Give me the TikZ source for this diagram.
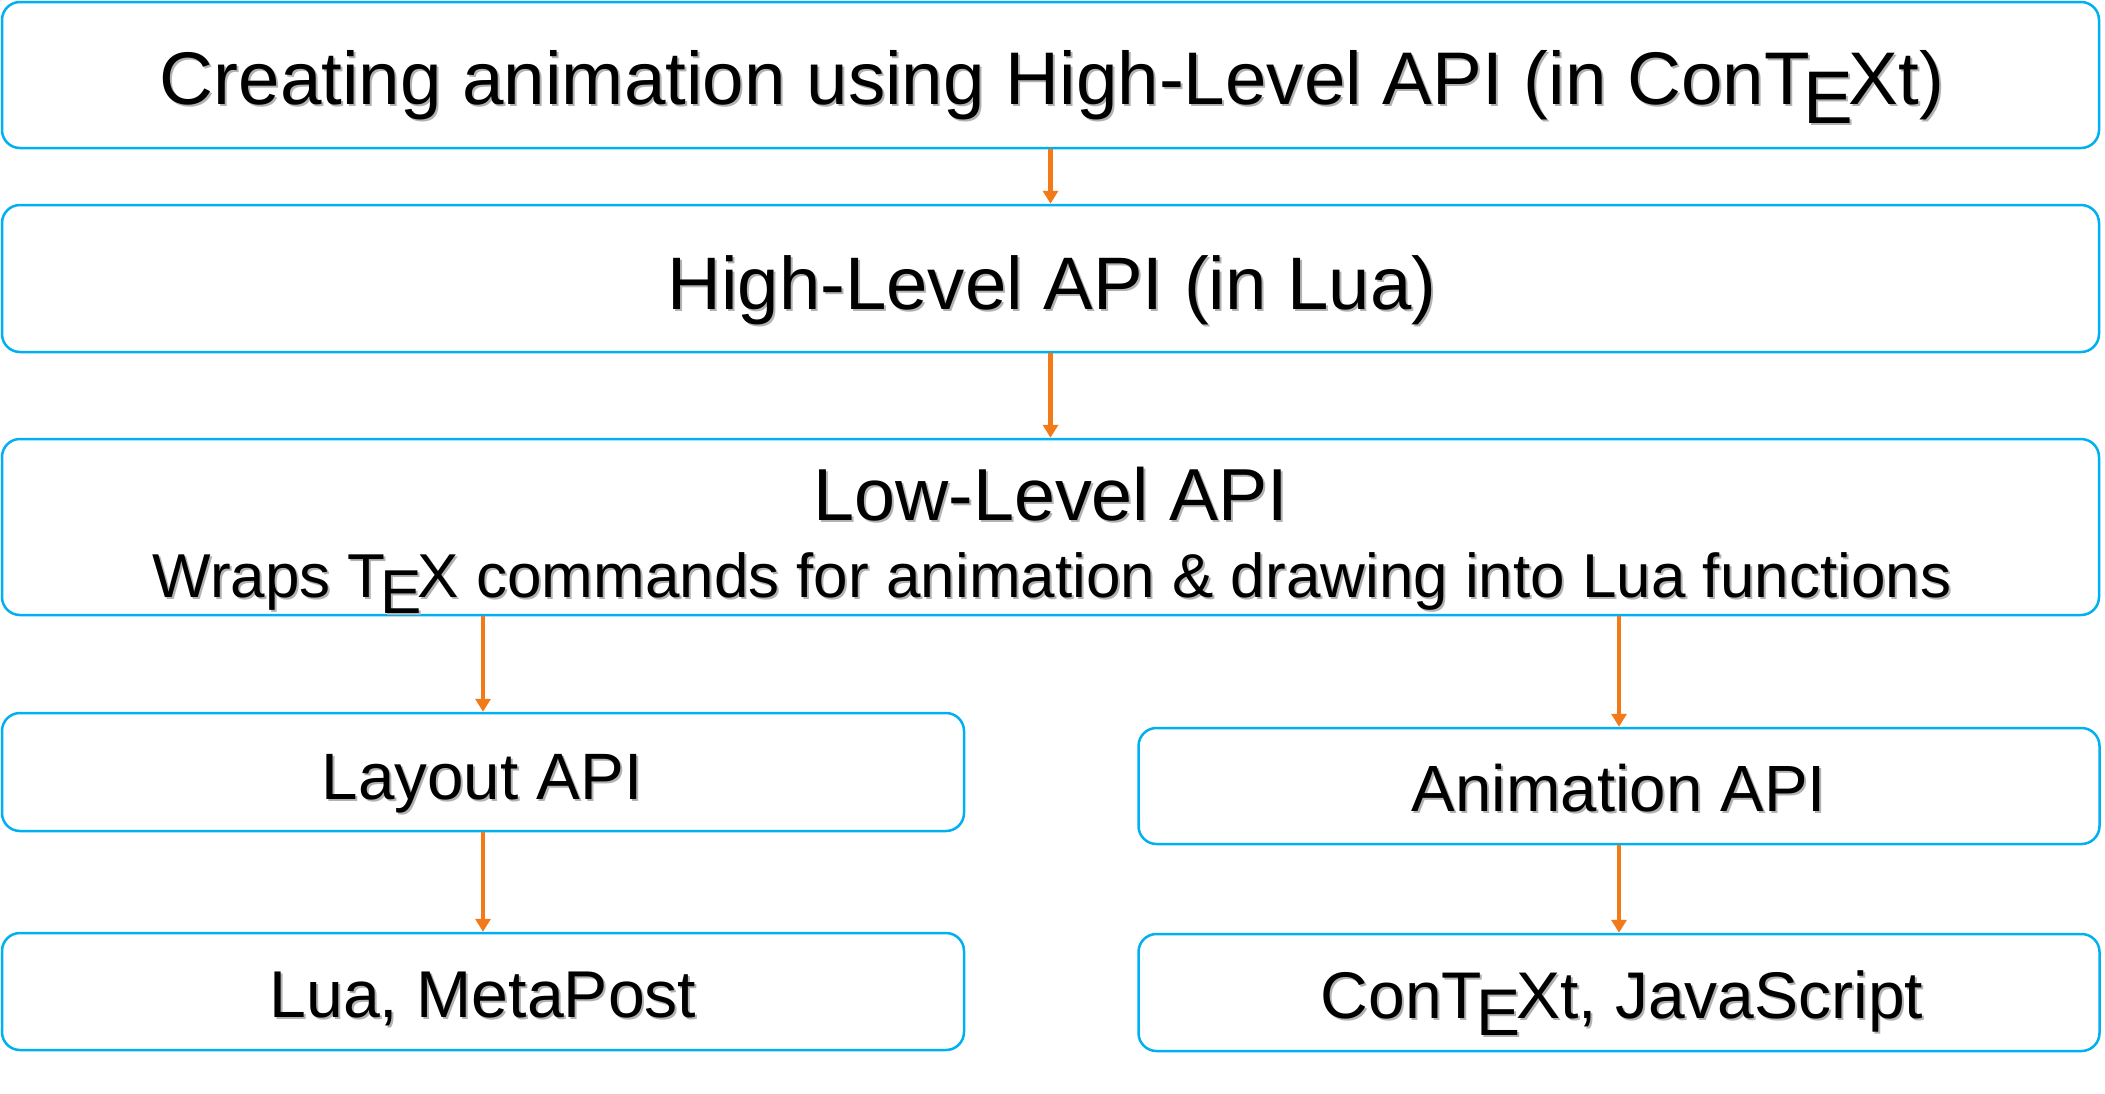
\documentclass[tikz,border=0pt]{standalone}
\usepackage{fontspec}
\setmainfont{Liberation Sans}
\usetikzlibrary{arrows.meta}
\definecolor{boxblue}{RGB}{0,176,240}
\definecolor{arrorange}{RGB}{242,122,24}
\newcommand\TeXlg{T\kern-.09em\lower.26em\hbox{E}\kern-.06emX}
\newcommand\shd[1]{\rlap{\kern2pt\raisebox{-2.5pt}{\color{black!30}#1}}#1}
\newcommand\fsz[1]{\fontsize{#1}{#1}\selectfont}
\begin{document}
\begin{tikzpicture}[x=1pt,y=-1pt,
  box/.style={draw=boxblue, line width=2.5pt, rounded corners=18pt, inner sep=0pt, fill=white},
  txt/.style={anchor=base, inner sep=0pt, text=black},
  arr/.style={draw=arrorange, line width=4.4pt, -{Triangle[width=15pt,length=13pt]}}]
\useasboundingbox (0,0) rectangle (2105,1093);
% boxes
\node[box, minimum width=2097pt, minimum height=146pt] (b1) at (1050.5,75) {};
\node[box, minimum width=2097pt, minimum height=147pt] (b2) at (1050.5,278.5) {};
\node[box, minimum width=2097pt, minimum height=176pt] (b3) at (1050.5,527) {};
\node[box, minimum width=962pt, minimum height=118pt] (lay) at (483,772) {};
\node[box, minimum width=962pt, minimum height=117pt] (lua) at (483,991.5) {};
\node[box, minimum width=961pt, minimum height=116pt] (ani) at (1619,786) {};
\node[box, minimum width=961pt, minimum height=117pt] (ctx) at (1619,992.5) {};
% texts
\node[txt] (t1) at (1052,104) {\fsz{74.6}\shd{Creating animation using High-Level API (in Con\TeXlg t)}};
\node[txt] (t2) at (1052,309) {\fsz{74.4}\shd{High-Level API (in Lua)}};
\node[txt] (t3) at (1051,520) {\fsz{73.7}\shd{Low-Level API}};
\node[txt] (t4) at (1052,597) {\fsz{62}\shd{Wraps \TeXlg\ commands for animation \& drawing into Lua functions}};
\node[txt] (t5) at (482,799) {\fsz{65.6}\shd{Layout API}};
\node[txt] (t6) at (483,1017) {\fsz{66.2}\shd{Lua, MetaPost}};
\node[txt] (t7) at (1619,811) {\fsz{65.4}\shd{Animation API}};
\node[txt] (t8) at (1622,1018) {\fsz{66}\shd{Con\TeXlg t, JavaScript}};
% arrows
\draw[arr] (b1.south) -- (b2.north);
\draw[arr] (b2.south) -- (b3.north);
\draw[arr] (b3.south -| lay.north) -- (lay.north);
\draw[arr] (b3.south -| ani.north) -- (ani.north);
\draw[arr] (lay.south) -- (lua.north);
\draw[arr] (ani.south) -- (ctx.north);
\end{tikzpicture}
\end{document}
